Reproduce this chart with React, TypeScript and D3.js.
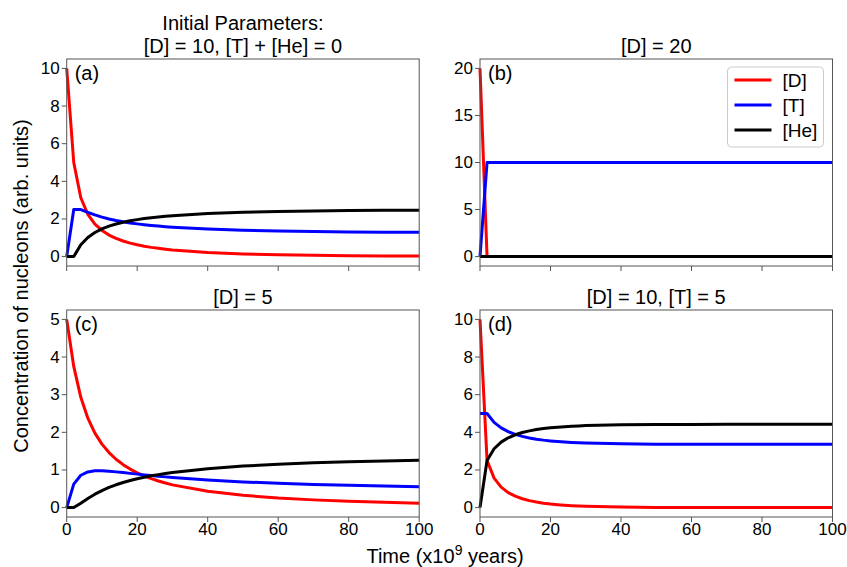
import React from "react";
import * as d3 from "d3";

// time axis (x10^9 years)
const time = [0, 2, 4, 6, 8, 10, 12, 14, 16, 18, 20, 22, 24, 26, 28, 30, 40, 50, 60, 70, 80, 90, 100];

// (a) [D] = 10
const aD = [10, 5, 3.125, 2.246, 1.73, 1.388, 1.146, 0.966, 0.827, 0.716, 0.626, 0.552, 0.49, 0.438, 0.392, 0.354, 0.22, 0.144, 0.1, 0.07, 0.049, 0.035, 0.025];
const aT = [0, 2.5, 2.5, 2.354, 2.215, 2.099, 2.001, 1.919, 1.85, 1.79, 1.739, 1.694, 1.655, 1.621, 1.59, 1.563, 1.462, 1.399, 1.358, 1.33, 1.311, 1.297, 1.287];
const aHe = [0, 0, 0.625, 1.016, 1.28, 1.472, 1.617, 1.732, 1.825, 1.901, 1.965, 2.02, 2.067, 2.107, 2.143, 2.174, 2.286, 2.353, 2.395, 2.424, 2.444, 2.458, 2.468];

// (b) [D] = 20
const bD = [20, 0, 0, 0, 0, 0, 0, 0, 0, 0, 0, 0, 0, 0, 0, 0, 0, 0, 0, 0, 0, 0, 0];
const bT = [0, 10, 10, 10, 10, 10, 10, 10, 10, 10, 10, 10, 10, 10, 10, 10, 10, 10, 10, 10, 10, 10, 10];
const bHe = [0, 0, 0, 0, 0, 0, 0, 0, 0, 0, 0, 0, 0, 0, 0, 0, 0, 0, 0, 0, 0, 0, 0];

// (c) [D] = 5
const cD = [5, 3.75, 2.93, 2.375, 1.98, 1.687, 1.462, 1.285, 1.141, 1.023, 0.924, 0.84, 0.768, 0.706, 0.652, 0.604, 0.432, 0.326, 0.255, 0.205, 0.168, 0.139, 0.116];
const cT = [0, 0.625, 0.859, 0.948, 0.977, 0.978, 0.967, 0.949, 0.93, 0.909, 0.889, 0.869, 0.85, 0.832, 0.816, 0.8, 0.733, 0.683, 0.645, 0.615, 0.591, 0.571, 0.555];
const cHe = [0, 0, 0.117, 0.243, 0.356, 0.452, 0.535, 0.606, 0.667, 0.72, 0.766, 0.807, 0.844, 0.876, 0.906, 0.932, 1.035, 1.103, 1.152, 1.189, 1.218, 1.24, 1.258];

// (d) [D] = 10, [T] = 5
const dD = [10, 2.5, 1.563, 1.086, 0.797, 0.605, 0.469, 0.369, 0.294, 0.236, 0.191, 0.155, 0.127, 0.104, 0.086, 0.07, 0.028, 0.011, 0.004, 0.002, 0.001, 0, 0];
const dT = [5, 5, 4.531, 4.238, 4.038, 3.893, 3.784, 3.701, 3.636, 3.585, 3.544, 3.511, 3.484, 3.463, 3.445, 3.43, 3.388, 3.371, 3.365, 3.362, 3.361, 3.361, 3.361];
const dHe = [0, 2.5, 3.125, 3.479, 3.709, 3.87, 3.988, 4.076, 4.145, 4.198, 4.24, 4.274, 4.302, 4.324, 4.342, 4.356, 4.399, 4.416, 4.422, 4.425, 4.426, 4.427, 4.427];

const seriesNames = ["[D]", "[T]", "[He]"];
const seriesColors = ["#ff0000", "#0000ff", "#000000"];
const xTicks = [0, 20, 40, 60, 80, 100];
const yTicksTen = [0, 2, 4, 6, 8, 10];
const yTicksTwenty = [0, 5, 10, 15, 20];
const yTicksFive = [0, 1, 2, 3, 4, 5];

const FONT = "'Liberation Sans', Arial, Helvetica, sans-serif";
const W = 847;
const H = 567;
const colLeft = [66.7, 480];
const rowTop = [59, 310];
const pw = 352.5;
const ph = 207;

const panels = [
  { label: "(a)", title: ["Initial Parameters:", "[D] = 10, [T] + [He] = 0"], ymax: 10, yTicks: yTicksTen, data: [aD, aT, aHe], col: 0, row: 0 },
  { label: "(b)", title: ["[D] = 20"], ymax: 20, yTicks: yTicksTwenty, data: [bD, bT, bHe], col: 1, row: 0, legend: true },
  { label: "(c)", title: ["[D] = 5"], ymax: 5, yTicks: yTicksFive, data: [cD, cT, cHe], col: 0, row: 1 },
  { label: "(d)", title: ["[D] = 10, [T] = 5"], ymax: 10, yTicks: yTicksTen, data: [dD, dT, dHe], col: 1, row: 1 },
];

const Panel = ({ p }: { p: any }) => {
  const left = colLeft[p.col];
  const top = rowTop[p.row];
  const pad = p.ymax * 0.05;
  const x = d3.scaleLinear().domain([0, 100]).range([left, left + pw]);
  const y = d3.scaleLinear().domain([-pad, p.ymax + pad]).range([top + ph, top]);
  const line = d3
    .line<number>()
    .x((d, i) => x(time[i]))
    .y((d) => y(d));
  const cx = left + pw / 2;
  const titleLines: string[] = p.title;

  return (
    <g>
      <defs>
        <clipPath id={`clip-${p.label}`}>
          <rect x={left} y={top} width={pw} height={ph} />
        </clipPath>
      </defs>
      {/* title */}
      {titleLines.map((t, i) => (
        <text
          key={t}
          x={cx}
          y={top - 6 - (titleLines.length - 1 - i) * 23}
          textAnchor="middle"
          fontSize={20}
          fontFamily={FONT}
        >
          {t}
        </text>
      ))}
      {/* series */}
      <g clipPath={`url(#clip-${p.label})`}>
        {p.data.map((vals: number[], k: number) => (
          <path
            key={k}
            d={line(vals) || ""}
            fill="none"
            stroke={seriesColors[k]}
            strokeWidth={3}
            strokeLinejoin="round"
          />
        ))}
      </g>
      {/* frame */}
      <rect x={left} y={top} width={pw} height={ph} fill="none" stroke="#555" strokeWidth={1} />
      {/* y ticks */}
      {p.yTicks.map((t: number) => (
        <g key={t}>
          <line x1={left - 5} x2={left} y1={y(t)} y2={y(t)} stroke="#555" />
          <text
            x={left - 7}
            y={y(t)}
            textAnchor="end"
            dominantBaseline="central"
            fontSize={17}
            fontFamily={FONT}
          >
            {t}
          </text>
        </g>
      ))}
      {/* x ticks */}
      {xTicks.map((t) => (
        <g key={t}>
          <line x1={x(t)} x2={x(t)} y1={top + ph} y2={top + ph + 5} stroke="#555" />
          {p.row === 1 && (
            <text x={x(t)} y={top + ph + 18} textAnchor="middle" fontSize={17} fontFamily={FONT}>
              {t}
            </text>
          )}
        </g>
      ))}
      {/* panel label */}
      <text x={left + 8} y={top + 21} fontSize={20} fontFamily={FONT}>
        {p.label}
      </text>
      {p.legend && (
        <g>
          <rect
            x={left + pw - 105}
            y={top + 8}
            width={96}
            height={80}
            rx={4}
            fill="white"
            fillOpacity={0.8}
            stroke="#cccccc"
          />
          {seriesNames.map((n, k) => (
            <g key={n}>
              <line
                x1={left + pw - 98}
                x2={left + pw - 61}
                y1={top + 21 + k * 25}
                y2={top + 21 + k * 25}
                stroke={seriesColors[k]}
                strokeWidth={3}
              />
              <text
                x={left + pw - 50}
                y={top + 21 + k * 25}
                dominantBaseline="central"
                fontSize={19}
                fontFamily={FONT}
              >
                {n}
              </text>
            </g>
          ))}
        </g>
      )}
    </g>
  );
};

export default function App() {
  return (
    <svg
      width={W}
      height={H}
      style={{ position: "absolute", left: 0, top: 0, background: "white" }}
    >
      {panels.map((p) => (
        <Panel key={p.label} p={p} />
      ))}
      <text
        transform={`translate(28, ${286}) rotate(-90)`}
        textAnchor="middle"
        fontSize={20}
        fontFamily={FONT}
      >
        Concentration of nucleons (arb. units)
      </text>
      <text x={445} y={563} textAnchor="middle" fontSize={20} fontFamily={FONT}>
        Time (x10<tspan baselineShift="super" fontSize={14}>9</tspan> years)
      </text>
    </svg>
  );
}
